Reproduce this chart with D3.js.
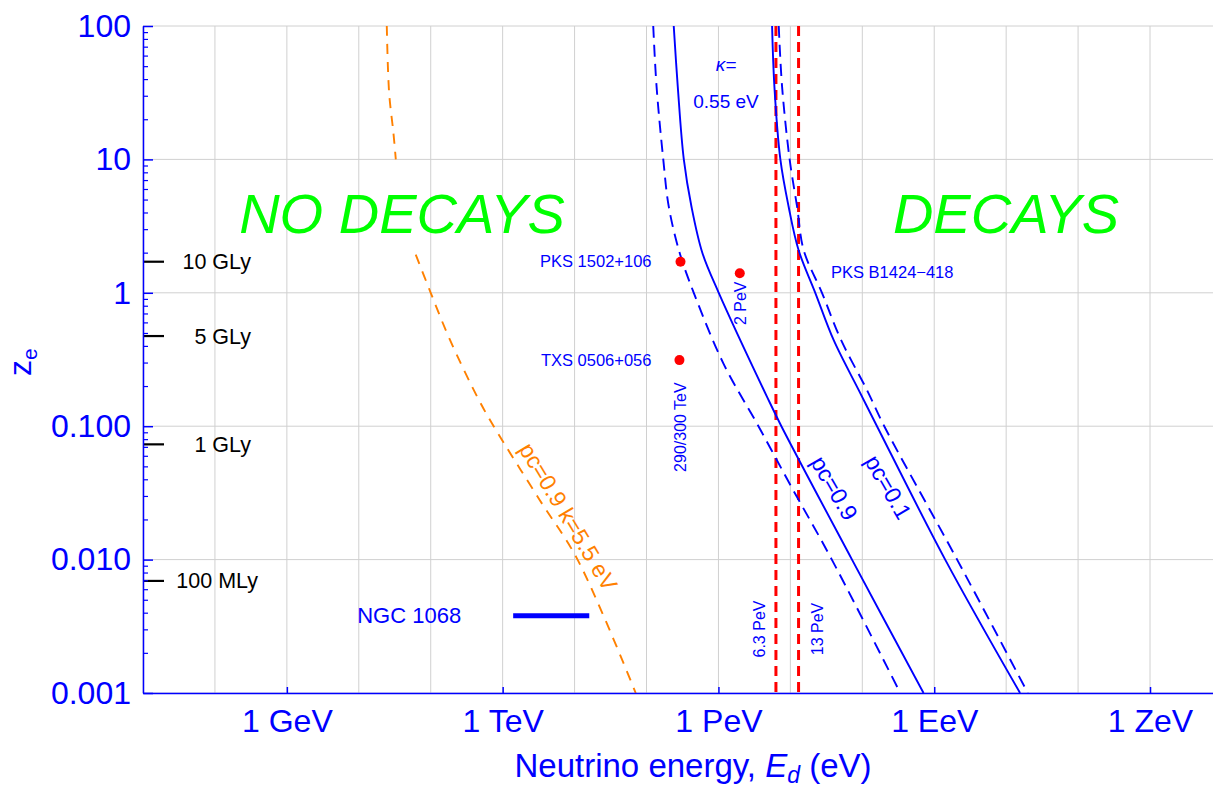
<!DOCTYPE html>
<html><head><meta charset="utf-8">
<script src="https://cdn.jsdelivr.net/npm/d3@7"></script>
<style>
body{margin:0;background:#fff}
svg{display:block;font-family:"Liberation Sans",Arial,sans-serif}
</style>
</head><body>
<svg id="chart" width="1213" height="788"></svg>
<script>
// ---------------- data ----------------
// x: neutrino energy E_d (eV), y: redshift z_e
const xTickValues = [1e9, 1e12, 1e15, 1e18, 1e21];
const xTickLabels = ["1 GeV", "1 TeV", "1 PeV", "1 EeV", "1 ZeV"];
const yTickValues = [0.001, 0.01, 0.1, 1, 10, 100];
const yTickLabels = ["0.001", "0.010", "0.100", "1", "10", "100"];

// pc = 0.9, kappa = 0.55 eV (solid / dashed)
const pc09Solid = [[2.39e14,100],[2.72e14,35.1],[3.30e14,10],[4.22e14,4.42],[6.00e14,1.98],[1.01e15,1.0],[4.74e15,0.166],[7.50e15,0.1],[7.19e16,0.01],[7.10e17,0.001]];
const pc09Dashed = [[1.24e14,100],[1.38e14,35.1],[1.71e14,10],[2.04e14,4.42],[2.90e14,1.98],[4.54e14,1.0],[1.17e15,0.296],[3.60e15,0.1],[1.03e16,0.0352],[3.77e16,0.01],[3.37e17,0.001]];
// pc = 0.1, kappa = 0.55 eV (solid / dashed)
const pc01Solid = [[5.57e15,100],[6.00e15,35.1],[7.26e15,10],[9.46e15,4.42],[1.30e16,2.09],[2.22e16,1.0],[3.99e16,0.443],[8.89e16,0.187],[1.60e17,0.1],[1.42e18,0.01],[1.56e19,0.001]];
const pc01Dashed = [[6.89e15,100],[7.67e15,35.1],[9.77e15,10],[1.24e16,4.42],[1.53e16,2.09],[2.75e16,1.0],[5.06e16,0.443],[1.16e17,0.187],[2.02e17,0.1],[2.08e18,0.01],[2.00e19,0.001]];
// pc = 0.9, kappa = 5.5 eV (orange, two visible pieces)
const orangeUpper = [[2.45e10,100],[2.64e10,31.6],[3.03e10,15.8],[3.27e10,10]];
const orangeLower = [[6.19e10,1.93],[1.0e11,1.0],[1.84e11,0.447],[4.65e11,0.158],[7.50e11,0.1],[3.27e12,0.028],[1.10e13,0.01],[7.08e13,0.001]];

// vertical energy markers
const markerEnergies = [6.3e15, 1.3e16];
const markerLabels = ["6.3 PeV", "13 PeV"];

// sources
const sourceNames = ["PKS 1502+106", "TXS 0506+056", "PKS B1424\u2212418"];
const sourceE = [2.97e14, 2.87e14, 1.98e15];
const sourceZ = [1.71, 0.313, 1.40];

// NGC 1068 energy range
const ngcRange = [1.4e12, 1.6e13];
const ngcZ = 0.0038;

// distance markers
const distLabels = ["10 GLy", "5 GLy", "1 GLy", "100 MLy"];
const distZ = [1.71, 0.474, 0.0731, 0.00692];

// ---------------- drawing ----------------
const BLUE = "#0000ff", RED = "#ff0000", ORANGE = "#ff8000", GREEN = "#00ff00", GRID = "#d0d0d0";
const svg = d3.select("#chart");
const pL = 143, pT = 26, pB = 693, perDecade = 71.93;
const x = d3.scaleLog().domain([1e7, 1e22]).range([pL, pL + 15 * perDecade]);
const y = d3.scaleLog().domain([0.001, 100]).range([pB, pT]);

svg.append("defs").append("clipPath").attr("id", "clip")
  .append("rect").attr("x", pL).attr("y", pT).attr("width", 1213 - pL).attr("height", pB - pT);

// grid
const grid = svg.append("g");
const xDecades = d3.range(7, 23).map(e => Math.pow(10, e));
const yDecades = d3.range(-3, 3).map(e => Math.pow(10, e));
grid.selectAll(".gx").data(xDecades).join("line")
  .attr("x1", d => x(d)).attr("x2", d => x(d)).attr("y1", pT).attr("y2", pB)
  .attr("stroke", GRID).attr("stroke-width", 1);
grid.selectAll(".gy").data(yDecades).join("line")
  .attr("x1", pL).attr("x2", 1213).attr("y1", d => y(d)).attr("y2", d => y(d))
  .attr("stroke", GRID).attr("stroke-width", 1);

const plot = svg.append("g").attr("clip-path", "url(#clip)");
const line = d3.line().x(d => x(d[0])).y(d => y(d[1])).curve(d3.curveCatmullRom.alpha(0.5));

// red vertical dashed lines
plot.selectAll(".mk").data(markerEnergies).join("line")
  .attr("x1", d => x(d)).attr("x2", d => x(d)).attr("y1", pT).attr("y2", pB)
  .attr("stroke", RED).attr("stroke-width", 3).attr("stroke-dasharray", "10,6");

const curves = [
  {d: pc09Solid, c: BLUE, dash: null},
  {d: pc09Dashed, c: BLUE, dash: "12,7"},
  {d: pc01Solid, c: BLUE, dash: null},
  {d: pc01Dashed, c: BLUE, dash: "12,7"},
  {d: orangeUpper, c: ORANGE, dash: "10,8"},
  {d: orangeLower, c: ORANGE, dash: "10,8"}
];
curves.forEach(cv => {
  plot.append("path").attr("d", line(cv.d)).attr("fill", "none")
    .attr("stroke", cv.c).attr("stroke-width", 1.9)
    .attr("stroke-dasharray", cv.dash);
});

// NGC 1068 bar
plot.append("line").attr("x1", x(ngcRange[0])).attr("x2", x(ngcRange[1]))
  .attr("y1", y(ngcZ)).attr("y2", y(ngcZ)).attr("stroke", BLUE).attr("stroke-width", 5);
svg.append("text").attr("x", x(ngcRange[0]) - 52).attr("y", y(ngcZ)).attr("dy", "0.35em")
  .attr("text-anchor", "end").attr("fill", BLUE).attr("font-size", 22).text("NGC 1068");

// source dots
plot.selectAll(".src").data(sourceE).join("circle")
  .attr("cx", (d, i) => x(d)).attr("cy", (d, i) => y(sourceZ[i])).attr("r", 5).attr("fill", RED);
// source labels
svg.append("text").attr("x", x(sourceE[0]) - 29).attr("y", y(sourceZ[0])).attr("dy", "0.35em")
  .attr("text-anchor", "end").attr("fill", BLUE).attr("font-size", 16.5).text(sourceNames[0]);
svg.append("text").attr("x", x(sourceE[1]) - 28).attr("y", y(sourceZ[1])).attr("dy", "0.35em")
  .attr("text-anchor", "end").attr("fill", BLUE).attr("font-size", 16.5).text(sourceNames[1]);
svg.append("text").attr("x", 831).attr("y", y(sourceZ[2]) - 1).attr("dy", "0.35em")
  .attr("text-anchor", "start").attr("fill", BLUE).attr("font-size", 16.5).text(sourceNames[2]);

function vtext(px, py, str, size) {
  svg.append("text").attr("transform", `translate(${px},${py}) rotate(-90)`)
    .attr("text-anchor", "middle").attr("dy", "0.35em")
    .attr("fill", BLUE).attr("font-size", size).text(str);
}
vtext(x(sourceE[2]) + 1, y(sourceZ[2]) + 30, "2 PeV", 16);
vtext(x(sourceE[1]) + 1, y(sourceZ[1]) + 67, "290/300 TeV", 16);
vtext(x(markerEnergies[0]) - 17, 629, markerLabels[0], 16);
vtext(x(markerEnergies[1]) + 19, 629, markerLabels[1], 16);

// kappa label
svg.append("text").attr("x", 726).attr("y", 64).attr("dy", "0.35em").attr("text-anchor", "middle")
  .attr("fill", BLUE).attr("font-size", 19).attr("font-style", "italic").text("\u03ba=");
svg.append("text").attr("x", 726).attr("y", 101).attr("dy", "0.35em").attr("text-anchor", "middle")
  .attr("fill", BLUE).attr("font-size", 19).text("0.55 eV");

// curve labels (rotated)
function rtext(E, z, ang, str, color, size) {
  svg.append("text").attr("transform", `translate(${x(E)},${y(z)}) rotate(${ang})`)
    .attr("text-anchor", "middle").attr("dy", "0.35em")
    .attr("fill", color).attr("font-size", size).text(str);
}
rtext(4.09e16, 0.0344, 60, "pc=0.9", BLUE, 23);
rtext(2.30e17, 0.035, 60, "pc=0.1", BLUE, 23);
rtext(8.2e12, 0.021, 59, "pc=0.9 k=5.5 eV", ORANGE, 23);

// region labels
svg.append("text").attr("x", 402).attr("y", 233).attr("text-anchor", "middle")
  .attr("fill", GREEN).attr("font-size", 56).attr("font-style", "italic").text("NO DECAYS");
svg.append("text").attr("x", 1006).attr("y", 233).attr("text-anchor", "middle")
  .attr("fill", GREEN).attr("font-size", 56).attr("font-style", "italic").text("DECAYS");

// distance markers
const distG = svg.append("g");
distZ.forEach((z, i) => {
  distG.append("line").attr("x1", pL).attr("x2", pL + 21).attr("y1", y(z)).attr("y2", y(z))
    .attr("stroke", "#000").attr("stroke-width", 2.2);
  const isM = distLabels[i].indexOf("M") >= 0;
  distG.append("text").attr("x", isM ? 258 : 251).attr("y", y(z)).attr("dy", "0.35em")
    .attr("text-anchor", "end").attr("fill", "#000").attr("font-size", 21.5).text(distLabels[i]);
});

// axes
const yMinor = [];
yDecades.forEach(d => { if (d < 100) for (let k = 2; k <= 9; k++) yMinor.push(d * k); });
const yAxis = svg.append("g").attr("transform", `translate(${pL},0)`)
  .call(d3.axisLeft(y).tickValues(yTickValues).tickFormat((d, i) => yTickLabels[i])
    .tickSize(-10).tickSizeOuter(0).tickPadding(12));
yAxis.select(".domain").attr("stroke", BLUE).attr("stroke-width", 1.5);
yAxis.selectAll(".tick line").attr("stroke", BLUE).attr("stroke-width", 1.5);
yAxis.selectAll("text").attr("fill", BLUE).attr("font-size", 32)
  .attr("font-family", "Liberation Sans, Arial, sans-serif");
const yMinorAxis = svg.append("g").attr("transform", `translate(${pL},0)`)
  .call(d3.axisLeft(y).tickValues(yMinor).tickFormat("").tickSize(-5).tickSizeOuter(0));
yMinorAxis.select(".domain").remove();
yMinorAxis.selectAll(".tick line").attr("stroke", BLUE).attr("stroke-width", 1.2);

const xAxis = svg.append("g").attr("transform", `translate(0,${pB})`)
  .call(d3.axisBottom(x).tickValues(xTickValues).tickFormat((d, i) => xTickLabels[i])
    .tickSize(-6).tickSizeOuter(0).tickPadding(16));
xAxis.select(".domain").attr("stroke", BLUE).attr("stroke-width", 1.5);
xAxis.selectAll(".tick line").attr("stroke", BLUE).attr("stroke-width", 1.5);
xAxis.selectAll("text").attr("fill", BLUE).attr("font-size", 32)
  .attr("font-family", "Liberation Sans, Arial, sans-serif");

// axis titles
const xt = svg.append("text").attr("x", 693).attr("y", 777).attr("text-anchor", "middle")
  .attr("fill", BLUE).attr("font-size", 33);
xt.append("tspan").text("Neutrino energy, ");
xt.append("tspan").attr("font-style", "italic").text("E");
xt.append("tspan").attr("font-style", "italic").attr("font-size", 23).attr("dy", 6).text("d");
xt.append("tspan").attr("dy", -6).text(" (eV)");

const yt = svg.append("text").attr("transform", "translate(31,376) rotate(-90)")
  .attr("text-anchor", "start").attr("fill", BLUE).attr("font-size", 32);
yt.append("tspan").text("z");
yt.append("tspan").attr("font-size", 21).attr("dy", 6).text("e");
</script>
</body></html>
